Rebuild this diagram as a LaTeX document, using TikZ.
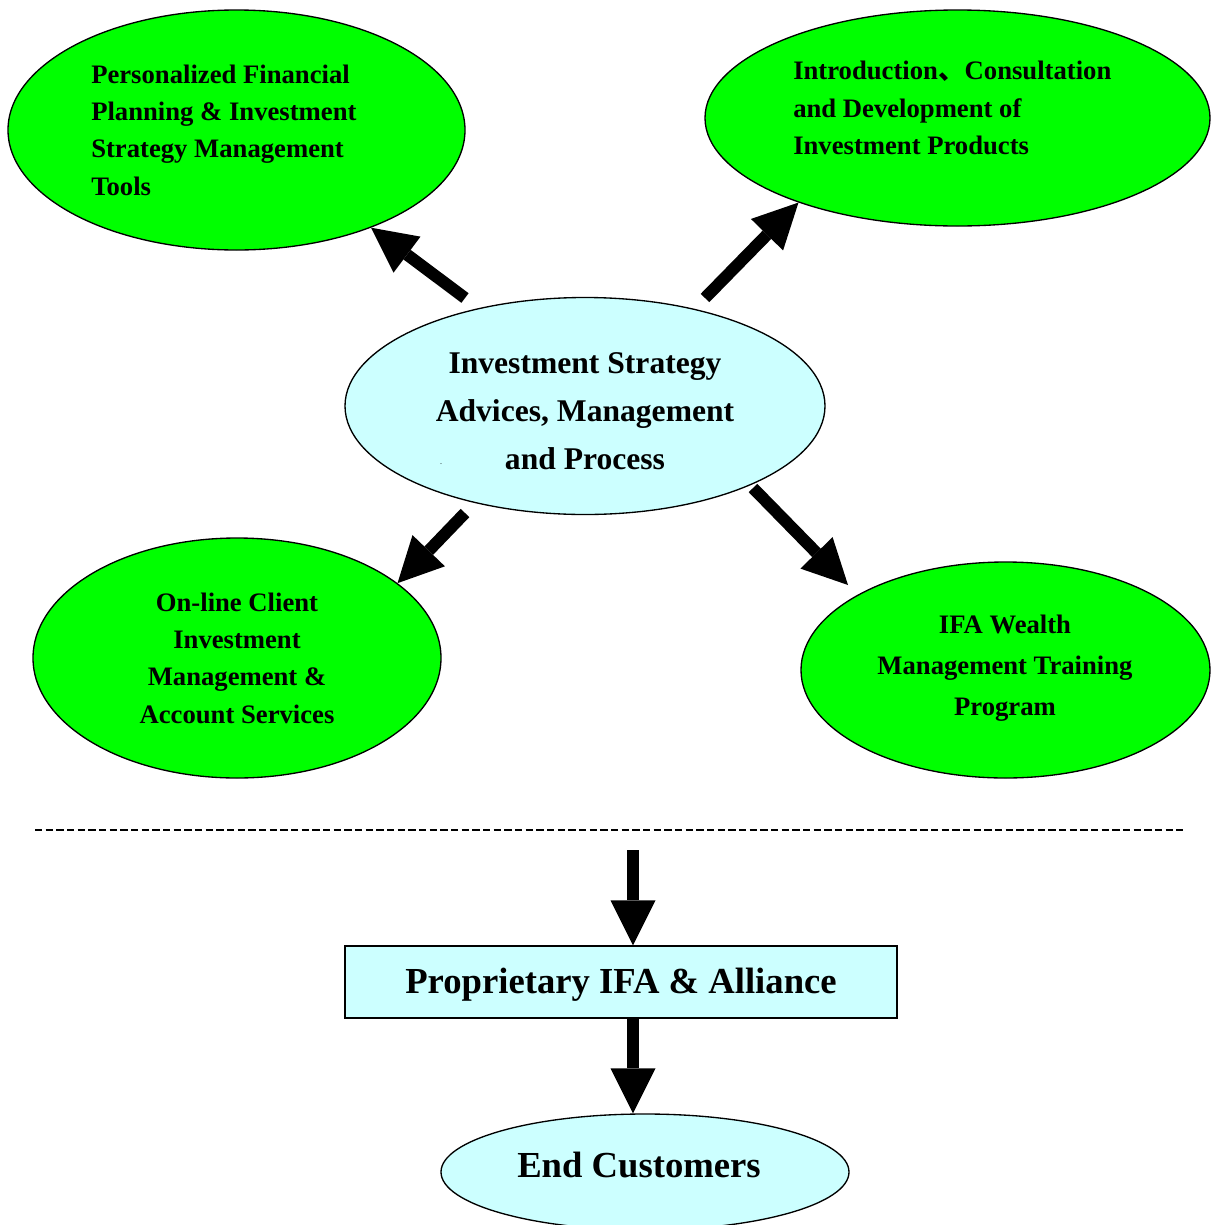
\documentclass[tikz,border=0pt]{standalone}
\usepackage{fontspec}
\setmainfont{Liberation Serif}
\newfontfamily\cjkfont{Noto Sans CJK SC}
\usetikzlibrary{shapes.geometric,arrows.meta}
\definecolor{nodegreen}{HTML}{00FF00}
\definecolor{nodecyan}{HTML}{CCFFFF}
\begin{document}
\begin{tikzpicture}[x=0.75pt,y=-0.75pt,
  ell/.style={ellipse,draw=black,line width=1pt,inner sep=0pt},
  gell/.style={ell,fill=nodegreen},
  cell/.style={ell,fill=nodecyan},
  gtext/.style={font=\bfseries\fontsize{20}{28}\selectfont,inner sep=0pt},
  bigtext/.style={font=\bfseries\fontsize{27.5}{33}\selectfont,inner sep=0pt},
  bigarrow/.style={line width=9pt,-{Triangle[length=33.75pt,width=33.75pt,line width=0pt]}}]
\useasboundingbox (0,0) rectangle (1211,1225);

% top-left
\node[gell,minimum width=342.75pt,minimum height=180pt] (tl) at (236.5,130) {};
\node[gtext,align=left,anchor=west] (tltxt) at (91,130) {Personalized Financial\\Planning \& Investment\\Strategy Management\\Tools};

% top-right
\node[gell,minimum width=378.75pt,minimum height=162pt] (tr) at (957.5,118) {};
\node[gtext,align=left,anchor=west] (trtxt) at (793,108) {Introduction{\cjkfont 、}Consultation\\and Development of\\Investment Products};

% centre
\node[cell,minimum width=360pt,minimum height=162.75pt] (ctr) at (585,406) {};
\node[font=\bfseries\fontsize{23.7}{36}\selectfont,align=center,inner sep=0pt] (ctrtxt) at (585,411) {Investment Strategy\\Advices, Management\\and Process};
\node[font=\fontsize{6}{7}\selectfont,inner sep=0pt] (dot) at (441,464) {.};

% bottom-left
\node[gell,minimum width=306pt,minimum height=180pt] (bl) at (237,658) {};
\node[gtext,align=center] (bltxt) at (237,658) {On-line Client\\Investment\\Management \&\\Account Services};

% bottom-right
\node[gell,minimum width=306.75pt,minimum height=162pt] (br) at (1005.5,670) {};
\node[font=\bfseries\fontsize{20}{30.75}\selectfont,align=center,inner sep=0pt] (brtxt) at (1005,668) {IFA Wealth\\Management Training\\Program};

% dashed separator
\coordinate (dl) at (35,830);
\coordinate (dr) at (1183,830);
\draw[line width=1.7pt,dash pattern=on 5.5pt off 2.5pt] (dl) -- (dr);

% IFA box
\node[draw=black,line width=1pt,fill=nodecyan,minimum width=414pt,minimum height=54pt,inner sep=0pt] (ifa) at (621,982) {};
\node[bigtext] (ifatxt) at (621,985) {Proprietary IFA \& Alliance};

% End customers
\node[cell,minimum width=306pt,minimum height=87pt] (endc) at (645,1172) {};
\node[bigtext] (endtxt) at (639,1165) {End Customers};

% arrows
\coordinate (a1s) at (465,298);
\draw[bigarrow] (a1s) -- (tl.324);
\coordinate (a2s) at (705,298);
\draw[bigarrow] (a2s) -- (tr.208.4);
\coordinate (a3s) at (465,513);
\draw[bigarrow] (a3s) -- (bl.25.4);
\coordinate (a4s) at (753,488);
\coordinate (a4e) at (848,585);
\draw[bigarrow] (a4s) -- (a4e);
\coordinate (a5s) at (633,850);
\draw[bigarrow] (a5s) -- (a5s |- ifa.north);
\draw[bigarrow] (ifa.south -| a5s) -- (a5s |- endc.north);
\end{tikzpicture}
\end{document}
